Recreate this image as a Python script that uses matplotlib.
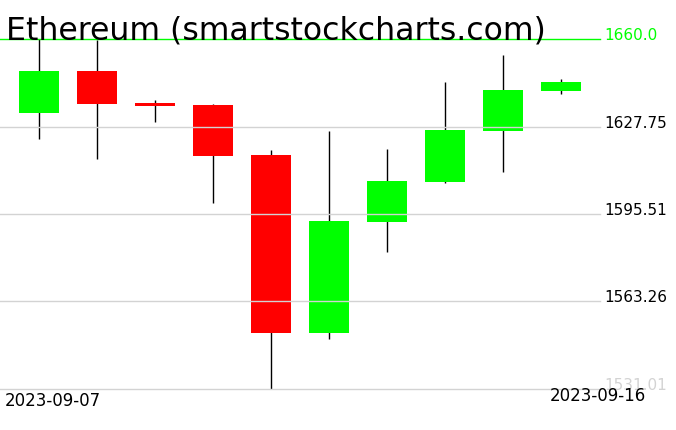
import numpy as np
import matplotlib
matplotlib.use('Agg')
import matplotlib.pyplot as plt
import matplotlib.transforms as mtransforms

# daily candles
dates = ['2023-09-07', '2023-09-08', '2023-09-09', '2023-09-10', '2023-09-11',
         '2023-09-12', '2023-09-13', '2023-09-14', '2023-09-15', '2023-09-16']
opens = [1632.8, 1648.2, 1636.4, 1635.7, 1617.4, 1551.8, 1592.6, 1607.4, 1626.2, 1640.8]
closes = [1648.2, 1636.2, 1635.4, 1617.0, 1551.8, 1593.0, 1607.7, 1626.5, 1641.2, 1644.2]
highs = [1660.0, 1659.8, 1637.5, 1635.9, 1619.1, 1626.1, 1619.5, 1644.2, 1654.1, 1645.3]
lows = [1623.3, 1615.9, 1629.5, 1599.7, 1531.01, 1549.6, 1581.6, 1606.8, 1611.1, 1639.8]

tick_values = [1531.01, 1563.26, 1595.51, 1627.75, 1660.0]
tick_labels = ['1531.01', '1563.26', '1595.51', '1627.75', '1660.0']

W, H = 676, 431
fig = plt.figure(figsize=(W / 100, H / 100), dpi=100)
ax = fig.add_axes([0, 1 - 390 / H, 600 / W, 350 / H])

x = np.arange(len(dates))
o = np.array(opens)
c = np.array(closes)
up = c >= o
colors = np.where(up, '#00ff00', '#ff0000')

# wicks under the bodies, grid lines over both
ax.vlines(x, lows, highs, color='black', linewidth=1, zorder=1)
ax.bar(x, c - o, bottom=o, width=0.69, color=colors, zorder=2)

ax.set_xlim(-0.678, 9.667)
ax.set_ylim(min(lows), max(highs))
ax.axis('off')

trans = mtransforms.blended_transform_factory(ax.transAxes, ax.transData)
for v, lab in zip(tick_values, tick_labels):
    if v == max(tick_values):
        lc, tc = '#00ff00', '#00ff00'
    elif v == min(tick_values):
        lc, tc = '#d3d3d3', '#d3d3d3'
    else:
        lc, tc = '#d3d3d3', 'black'
    ax.axhline(v, color=lc, linewidth=1, zorder=3, clip_on=False)
    ax.text(1.008, v, lab, transform=trans, color=tc, fontsize=11,
            va='baseline', ha='left', clip_on=False)

fig.text(6 / W, 1 - 39 / H, 'Ethereum (smartstockcharts.com)', fontsize=22.7,
         va='baseline', ha='left', color='black')

fig.text(5 / W, 1 - 406 / H, dates[0], fontsize=12, va='baseline', ha='left')
fig.text(646 / W, 1 - 401 / H, dates[-1], fontsize=12, va='baseline', ha='right')

fig.savefig('out.png', dpi=100)
